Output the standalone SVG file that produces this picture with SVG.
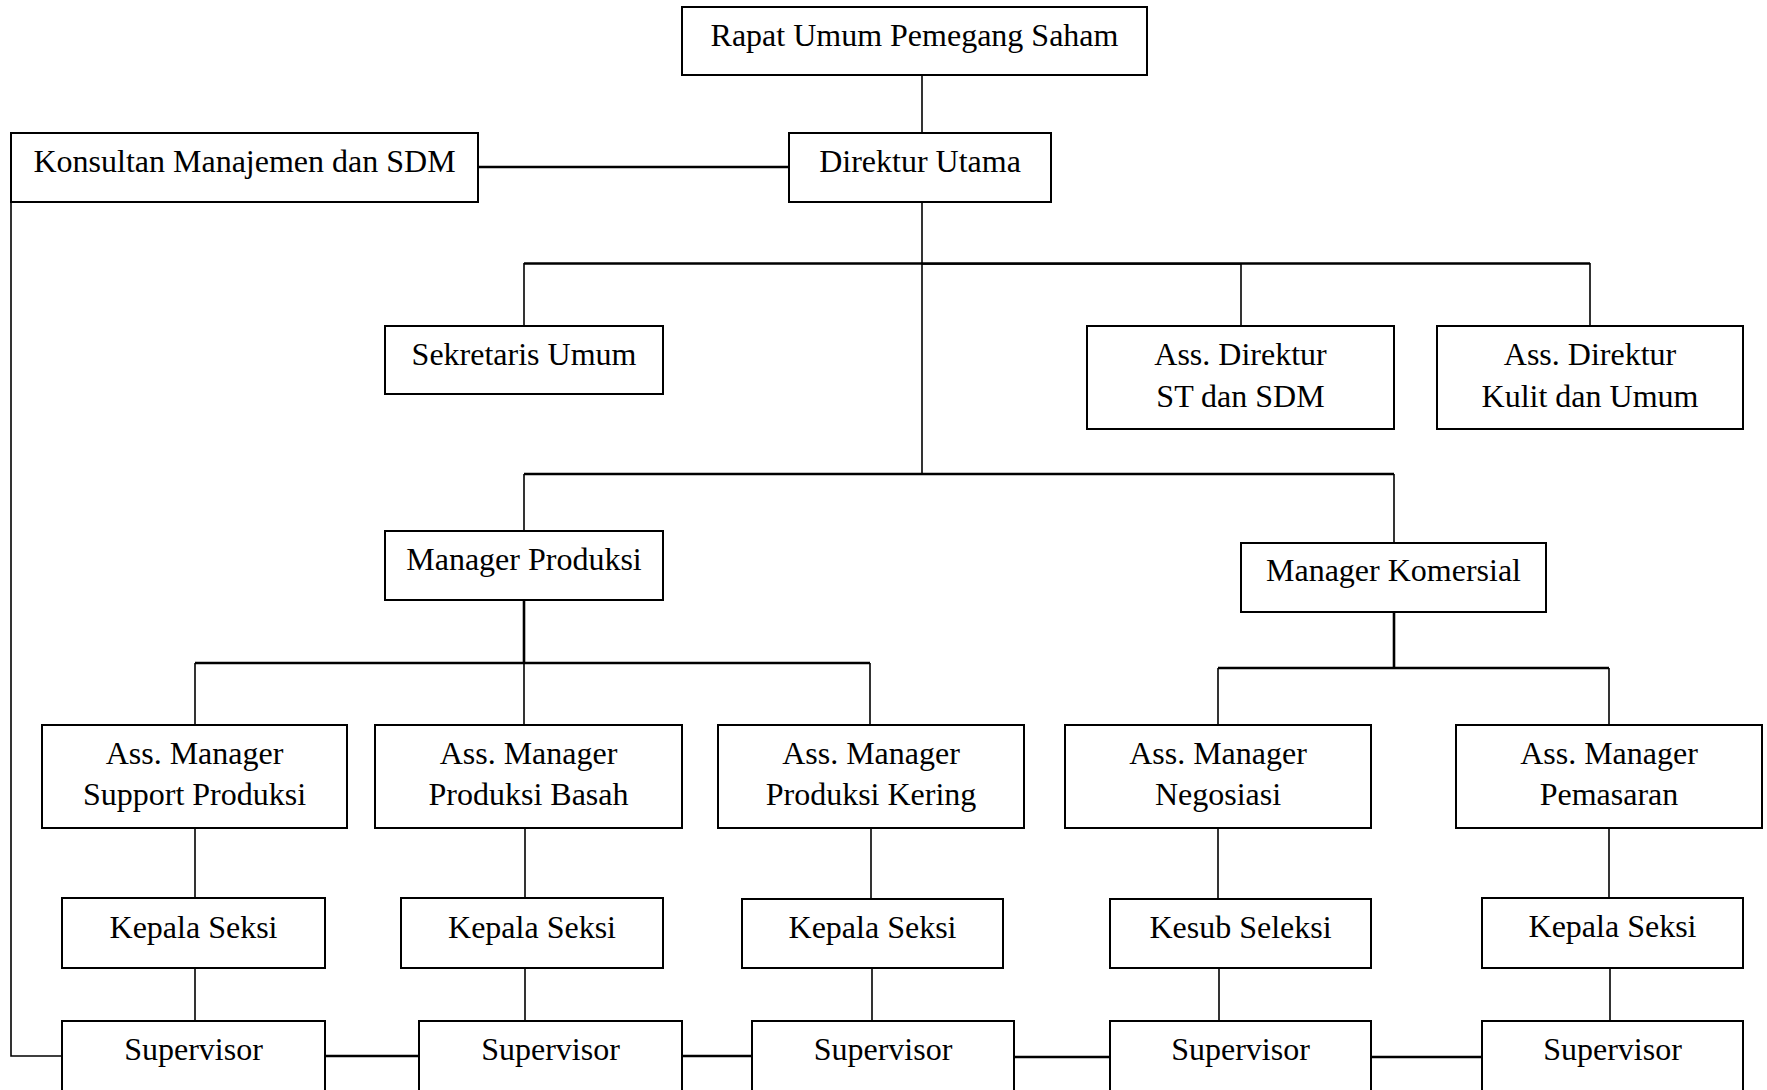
<svg xmlns="http://www.w3.org/2000/svg" width="1767" height="1090" viewBox="0 0 1767 1090">
<style>
.box{fill:#fff;stroke:#000;stroke-width:2}
.t{font-family:"Liberation Serif","Times New Roman",serif;font-size:32px;fill:#000;text-anchor:middle}
.c{stroke:#000;stroke-width:1.6;fill:none}
.k{stroke:#000;stroke-width:2.6;fill:none}
</style>
<rect width="1767" height="1090" fill="#fff"/>
<g id="connectors">
<line class="c" x1="922" y1="75" x2="922" y2="133"/>
<line class="k" x1="478" y1="167" x2="789" y2="167"/>
<polyline class="c" points="11,202 11,1056 62,1056"/>
<line class="c" x1="922" y1="202" x2="922" y2="474"/>
<line class="k" x1="524" y1="263.5" x2="1590" y2="263.5"/>
<line class="c" x1="922" y1="264" x2="1241" y2="264" stroke-width="3.5"/>
<line class="c" x1="524" y1="263" x2="524" y2="326"/>
<line class="c" x1="1241" y1="263" x2="1241" y2="326"/>
<line class="c" x1="1590" y1="263" x2="1590" y2="326"/>
<line class="k" x1="524" y1="474" x2="1394" y2="474"/>
<line class="c" x1="524" y1="474" x2="524" y2="531"/>
<line class="c" x1="1394" y1="474" x2="1394" y2="543"/>
<line class="k" x1="524" y1="600" x2="524" y2="663"/>
<line class="k" x1="195" y1="663" x2="870" y2="663"/>
<line class="c" x1="195" y1="663" x2="195" y2="725"/>
<line class="c" x1="524" y1="663" x2="524" y2="725"/>
<line class="c" x1="870" y1="663" x2="870" y2="725"/>
<line class="k" x1="1394" y1="612" x2="1394" y2="668"/>
<line class="k" x1="1218" y1="668" x2="1609" y2="668"/>
<line class="c" x1="1218" y1="668" x2="1218" y2="725"/>
<line class="c" x1="1609" y1="668" x2="1609" y2="725"/>
<line class="c" x1="195" y1="828" x2="195" y2="898"/>
<line class="c" x1="525" y1="828" x2="525" y2="898"/>
<line class="c" x1="871" y1="828" x2="871" y2="899"/>
<line class="c" x1="1218" y1="828" x2="1218" y2="899"/>
<line class="c" x1="1609" y1="828" x2="1609" y2="898"/>
<line class="c" x1="195" y1="968" x2="195" y2="1021"/>
<line class="c" x1="525" y1="968" x2="525" y2="1021"/>
<line class="c" x1="872" y1="968" x2="872" y2="1021"/>
<line class="c" x1="1219" y1="968" x2="1219" y2="1021"/>
<line class="c" x1="1610" y1="968" x2="1610" y2="1021"/>
<line class="k" x1="325" y1="1056" x2="419" y2="1056"/>
<line class="k" x1="682" y1="1056" x2="752" y2="1056"/>
<line class="k" x1="1014" y1="1057" x2="1110" y2="1057"/>
<line class="k" x1="1371" y1="1057" x2="1482" y2="1057"/>
</g>
<g id="rups"><rect class="box" x="682" y="7" width="465" height="68"/><text class="t" x="914.5" y="46">Rapat Umum Pemegang Saham</text></g>
<g id="direktur-utama"><rect class="box" x="789" y="133" width="262" height="69"/><text class="t" x="920" y="172">Direktur Utama</text></g>
<g id="konsultan"><rect class="box" x="11" y="133" width="467" height="69"/><text class="t" x="244.5" y="172">Konsultan Manajemen dan SDM</text></g>
<g id="sekretaris"><rect class="box" x="385" y="326" width="278" height="68"/><text class="t" x="524" y="365">Sekretaris Umum</text></g>
<g id="asdir-st"><rect class="box" x="1087" y="326" width="307" height="103"/><text class="t" x="1240.5" y="365">Ass. Direktur</text><text class="t" x="1240.5" y="407">ST dan SDM</text></g>
<g id="asdir-kulit"><rect class="box" x="1437" y="326" width="306" height="103"/><text class="t" x="1590" y="365">Ass. Direktur</text><text class="t" x="1590" y="407">Kulit dan Umum</text></g>
<g id="manager-produksi"><rect class="box" x="385" y="531" width="278" height="69"/><text class="t" x="524" y="570">Manager Produksi</text></g>
<g id="manager-komersial"><rect class="box" x="1241" y="543" width="305" height="69"/><text class="t" x="1393.5" y="581">Manager Komersial</text></g>
<g id="am-support"><rect class="box" x="42" y="725" width="305" height="103"/><text class="t" x="194.5" y="764">Ass. Manager</text><text class="t" x="194.5" y="805">Support Produksi</text></g>
<g id="am-basah"><rect class="box" x="375" y="725" width="307" height="103"/><text class="t" x="528.5" y="764">Ass. Manager</text><text class="t" x="528.5" y="805">Produksi Basah</text></g>
<g id="am-kering"><rect class="box" x="718" y="725" width="306" height="103"/><text class="t" x="871" y="764">Ass. Manager</text><text class="t" x="871" y="805">Produksi Kering</text></g>
<g id="am-negosiasi"><rect class="box" x="1065" y="725" width="306" height="103"/><text class="t" x="1218" y="764">Ass. Manager</text><text class="t" x="1218" y="805">Negosiasi</text></g>
<g id="am-pemasaran"><rect class="box" x="1456" y="725" width="306" height="103"/><text class="t" x="1609" y="764">Ass. Manager</text><text class="t" x="1609" y="805">Pemasaran</text></g>
<g id="kasi-1"><rect class="box" x="62" y="898" width="263" height="70"/><text class="t" x="193.5" y="938">Kepala Seksi</text></g>
<g id="kasi-2"><rect class="box" x="401" y="898" width="262" height="70"/><text class="t" x="532" y="938">Kepala Seksi</text></g>
<g id="kasi-3"><rect class="box" x="742" y="899" width="261" height="69"/><text class="t" x="872.5" y="938">Kepala Seksi</text></g>
<g id="kesub"><rect class="box" x="1110" y="899" width="261" height="69"/><text class="t" x="1240.5" y="938">Kesub Seleksi</text></g>
<g id="kasi-5"><rect class="box" x="1482" y="898" width="261" height="70"/><text class="t" x="1612.5" y="937">Kepala Seksi</text></g>
<g id="spv-1"><rect class="box" x="62" y="1021" width="263" height="70"/><text class="t" x="193.5" y="1060">Supervisor</text></g>
<g id="spv-2"><rect class="box" x="419" y="1021" width="263" height="70"/><text class="t" x="550.5" y="1060">Supervisor</text></g>
<g id="spv-3"><rect class="box" x="752" y="1021" width="262" height="70"/><text class="t" x="883" y="1060">Supervisor</text></g>
<g id="spv-4"><rect class="box" x="1110" y="1021" width="261" height="70"/><text class="t" x="1240.5" y="1060">Supervisor</text></g>
<g id="spv-5"><rect class="box" x="1482" y="1021" width="261" height="70"/><text class="t" x="1612.5" y="1060">Supervisor</text></g>
</svg>
